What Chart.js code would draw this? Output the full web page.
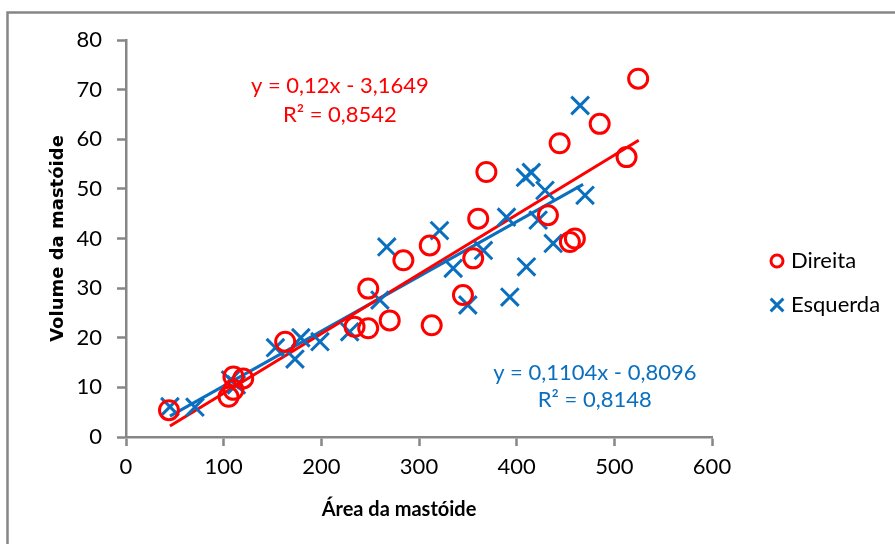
<!DOCTYPE html>
<html><head><meta charset="utf-8">
<script src="https://cdn.jsdelivr.net/npm/chart.js@4/dist/chart.umd.min.js"></script>
<style>html,body{margin:0;padding:0;background:#fff}#wrap{width:895px;height:544px;position:relative}</style>
</head><body><div id="wrap"><canvas id="c" width="895" height="544"></canvas></div>
<script>
// ---- data ----
const seriesNames = ['Direita', 'Esquerda'];
const direitaX = [44, 105, 110, 110, 120, 163, 234, 248, 248, 270, 284, 311, 313, 345, 355.5, 360.6, 369, 432, 444, 454.5, 459.6, 485, 512.5, 524.4];
const direitaY = [5.4, 8.1, 9.5, 12.2, 11.8, 19.2, 22.2, 21.9, 29.9, 23.5, 35.6, 38.6, 22.5, 28.6, 36, 44, 53.4, 44.7, 59.2, 39.3, 40, 63.1, 56.4, 72.2];
const esquerdaX = [45, 70.6, 107, 113, 153, 173, 179, 198.6, 229, 260, 267, 321, 335, 350, 366, 389.6, 393, 409, 410, 415, 422, 429, 437.4, 465, 470];
const esquerdaY = [6.1, 6, 11.5, 10.5, 18, 15.7, 20, 19.2, 21.2, 27.6, 38.3, 41.6, 34, 26.6, 37.6, 44.3, 28.2, 52.3, 34.3, 53.3, 43.7, 49.7, 39, 66.8, 48.7];
// trend line end points (x range of each series, y)
const trendDireitaX = [45, 525];
const trendDireitaY = [2.2, 59.8];
const trendEsquerdaX = [45, 468];
const trendEsquerdaY = [4.2, 50.9];
// trend line labels
const eqDireita = ['y = 0,12x - 3,1649', 'R² = 0,8542'];
const eqEsquerda = ['y = 0,1104x - 0,8096', 'R² = 0,8148'];
const eqDireitaAt = [219, 70.8, 65];   // x, y(line1), y(line2) in data units
const eqEsquerdaAt = [480, 12.9, 7.4];
const xTicks = [0, 100, 200, 300, 400, 500, 600];
const yTicks = [0, 10, 20, 30, 40, 50, 60, 70, 80];
const xTitle = 'Área da mastóide';
const yTitle = 'Volume da mastóide';

const RED = '#FF0000', BLUE = '#0A6FBF', AXIS = '#868686';
const pts = (xs, ys) => xs.map((x, i) => ({x: x, y: ys[i]}));

const framePlugin = {
  id: 'frame',
  beforeDraw(chart) {
    const c = chart.ctx;
    c.save();
    c.fillStyle = '#fff';
    c.fillRect(0, 0, chart.width, chart.height);
    c.strokeStyle = AXIS; c.lineWidth = 2.5;
    c.beginPath();
    c.moveTo(7.5, chart.height + 5); c.lineTo(7.5, 12.5); c.lineTo(chart.width + 5, 12.5);
    c.stroke();
    c.restore();
  },
  afterDraw(chart) {
    const c = chart.ctx, xs = chart.scales.x, ys = chart.scales.y;
    c.save();
    c.font = '22px Lato';
    c.textAlign = 'center'; c.textBaseline = 'middle';
    c.fillStyle = RED;
    c.fillText(eqDireita[0], xs.getPixelForValue(eqDireitaAt[0]), ys.getPixelForValue(eqDireitaAt[1]));
    c.fillText(eqDireita[1], xs.getPixelForValue(eqDireitaAt[0]), ys.getPixelForValue(eqDireitaAt[2]));
    c.fillStyle = BLUE;
    c.fillText(eqEsquerda[0], xs.getPixelForValue(eqEsquerdaAt[0]), ys.getPixelForValue(eqEsquerdaAt[1]));
    c.fillText(eqEsquerda[1], xs.getPixelForValue(eqEsquerdaAt[0]), ys.getPixelForValue(eqEsquerdaAt[2]));
    // x axis title (slightly left of centre as in the reference)
    c.fillStyle = '#000';
    c.font = 'bold 20px Lato';
    c.fillText(xTitle, 399, 510);
    // legend
    const items = [chart.data.datasets[0], chart.data.datasets[1]];
    const lx = 777, ly = [261, 305];
    items.forEach((ds, i) => {
      c.strokeStyle = ds.borderColor; c.fillStyle = 'rgba(0,0,0,0)';
      c.lineWidth = 3;
      Chart.helpers.drawPoint(c, {pointStyle: ds.pointStyle, radius: i === 0 ? 6 : 9, borderWidth: 3, rotation: 0}, lx, ly[i]);
      c.fillStyle = '#000'; c.textAlign = 'left';
      c.font = '22px Lato';
      c.fillText(ds.label, 791, ly[i]);
    });
    c.restore();
  }
};

new Chart(document.getElementById('c'), {
  type: 'scatter',
  data: {
    datasets: [
      {label: seriesNames[0], data: pts(direitaX, direitaY), pointStyle: 'circle', pointRadius: 9.5, borderColor: RED, backgroundColor: 'rgba(0,0,0,0)', pointBorderWidth: 3, borderWidth: 3},
      {label: seriesNames[1], data: pts(esquerdaX, esquerdaY), pointStyle: 'crossRot', pointRadius: 12.5, borderColor: BLUE, backgroundColor: BLUE, pointBorderWidth: 3, borderWidth: 3},
      {label: 'trend ' + seriesNames[0], data: pts(trendDireitaX, trendDireitaY), showLine: true, pointRadius: 0, borderColor: RED, borderWidth: 3},
      {label: 'trend ' + seriesNames[1], data: pts(trendEsquerdaX, trendEsquerdaY), showLine: true, pointRadius: 0, borderColor: BLUE, borderWidth: 3}
    ]
  },
  options: {
    responsive: false, animation: false, devicePixelRatio: 1,
    layout: {padding: {left: 48, top: 40, right: 183, bottom: 24}},
    plugins: {legend: {display: false}, tooltip: {enabled: false}},
    scales: {
      x: {
        type: 'linear', min: 0, max: 600,
        afterBuildTicks(s) { s.ticks = xTicks.map(v => ({value: v})); },
        afterFit(s) { s.height = 83; },
        ticks: {font: {family: 'Lato', size: 22}, color: '#000', padding: 8},
        grid: {display: true, drawOnChartArea: false, drawTicks: true, tickLength: 9, tickColor: AXIS, tickWidth: 2.5},
        border: {display: true, color: AXIS, width: 2.5},
        title: {display: false}
      },
      y: {
        type: 'linear', min: 0, max: 80,
        afterBuildTicks(s) { s.ticks = yTicks.map(v => ({value: v})); },
        afterFit(s) { s.width = 78; },
        ticks: {font: {family: 'Lato', size: 22}, color: '#000', padding: 15},
        grid: {display: true, drawOnChartArea: false, drawTicks: true, tickLength: 9, tickColor: AXIS, tickWidth: 2.5},
        border: {display: true, color: AXIS, width: 2.5},
        title: {display: true, text: yTitle, font: {family: 'DejaVu Sans', size: 18, weight: 'bold'}, color: '#000', padding: 0}
      }
    }
  },
  plugins: [framePlugin]
});
</script></body></html>
